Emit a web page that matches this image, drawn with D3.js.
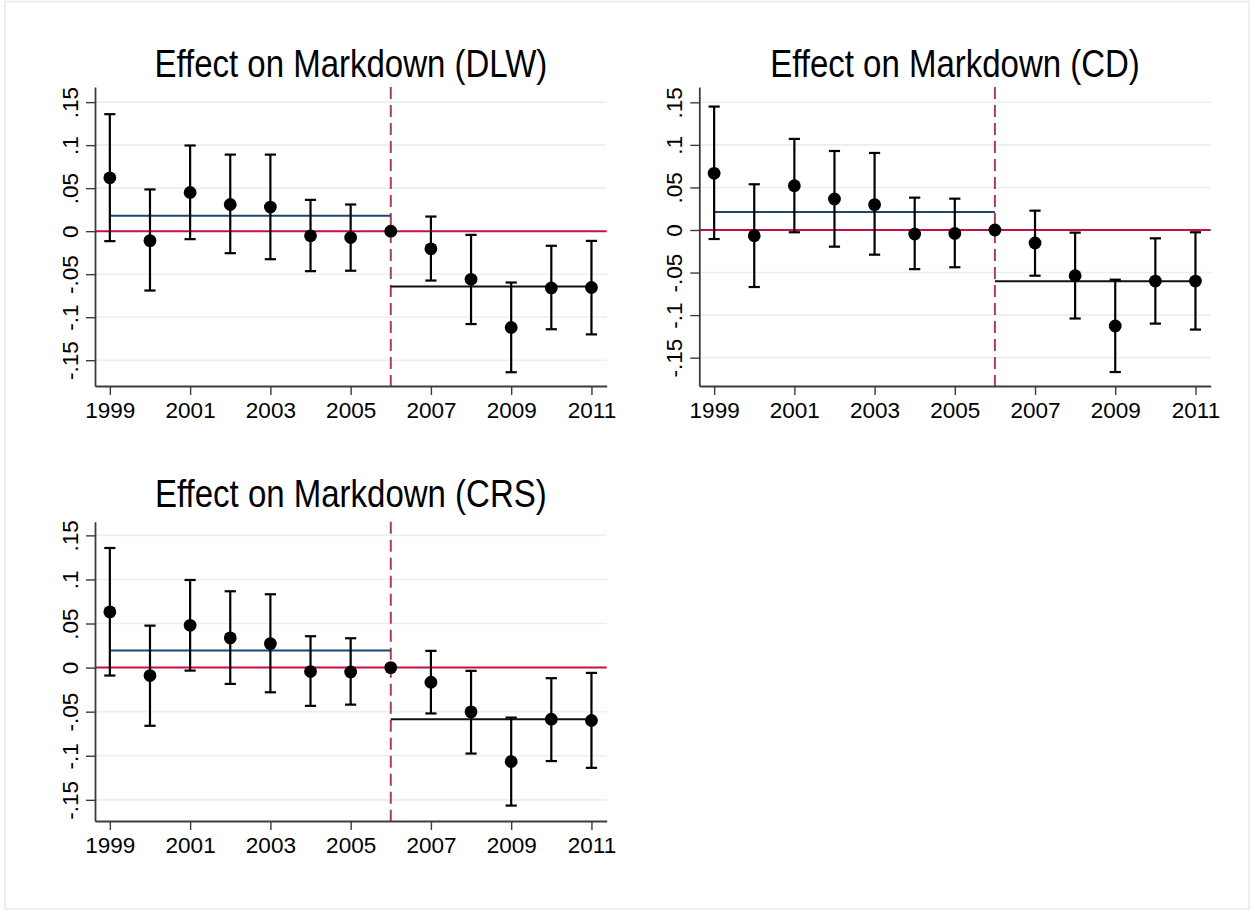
<!DOCTYPE html>
<html>
<head>
<meta charset="utf-8">
<script src="https://cdn.jsdelivr.net/npm/d3@7"></script>
<style>
    html, body { margin: 0; padding: 0; background: #fff; }
    svg { display: block; font-family: "Liberation Sans", Arial, sans-serif; }
</style>
</head>
<body>
<div id="chart"></div>
<script>
// event-study estimates
const YEARS = [1999, 2000, 2001, 2002, 2003, 2004, 2005, 2006, 2007, 2008, 2009, 2010, 2011];
const EVENT_YEAR = 2006;
const X_TICKS = [1999, 2001, 2003, 2005, 2007, 2009, 2011];
const Y_TICKS = [-0.15, -0.1, -0.05, 0, 0.05, 0.1, 0.15];
const Y_TICK_LABELS = ['-.15', '-.1', '-.05', '0', '.05', '.1', '.15'];

const TITLES = ['Effect on Markdown (DLW)', 'Effect on Markdown (CD)', 'Effect on Markdown (CRS)'];

const DLW_EST = [0.062, -0.011, 0.045, 0.031, 0.028, -0.0054, -0.0074, 0, -0.0205, -0.056, -0.112, -0.066, -0.0655];
const DLW_HI = [0.136, 0.0485, 0.0996, 0.089, 0.089, 0.0364, 0.031, null, 0.017, -0.0043, -0.0597, -0.017, -0.0113];
const DLW_LO = [-0.0116, -0.069, -0.0093, -0.0256, -0.0326, -0.0465, -0.046, null, -0.0574, -0.108, -0.164, -0.114, -0.12];

const CD_EST = [0.0666, -0.0067, 0.052, 0.0364, 0.0298, -0.0047, -0.004, 0, -0.0153, -0.0537, -0.1128, -0.06, -0.06];
const CD_HI = [0.145, 0.0537, 0.107, 0.0928, 0.0905, 0.038, 0.0368, null, 0.0227, -0.0031, -0.0584, -0.0098, -0.0027];
const CD_LO = [-0.0106, -0.067, -0.0027, -0.0196, -0.029, -0.046, -0.0438, null, -0.0537, -0.104, -0.1669, -0.11, -0.117];

const CRS_EST = [0.0632, -0.009, 0.048, 0.0337, 0.0272, -0.0045, -0.0049, 0, -0.0166, -0.0502, -0.1066, -0.0585, -0.06];
const CRS_HI = [0.1357, 0.0476, 0.0994, 0.0866, 0.0832, 0.0356, 0.0333, null, 0.019, -0.0037, -0.0567, -0.012, -0.006];
const CRS_LO = [-0.009, -0.066, -0.0034, -0.0185, -0.028, -0.0434, -0.042, null, -0.052, -0.0975, -0.1565, -0.106, -0.1137];

// average pre / post effects (horizontal segments)
const PRE_MEANS = [0.0178, 0.0212, 0.0193];
const POST_MEANS = [-0.0643, -0.0603, -0.0585];

// axis ranges as Stata chose them
const X_RANGE = [1998.63, 2011.38];
const Y_RANGES = [[-0.180, 0.1676], [-0.1833, 0.168], [-0.174, 0.1655]];

// layout
const WIDTH = 1254;
const HEIGHT = 911;
const PANELS = [
    { left: 95, right: 606.7, top: 87, bottom: 386, titleY: 76.5 },
    { left: 699.3, right: 1210.7, top: 87, bottom: 386, titleY: 76.5 },
    { left: 95, right: 606.7, top: 521.7, bottom: 821, titleY: 507 },
];

const PALETTE = {
    grid: '#e7eff2',
    axis: '#3c3c3c',
    zero: '#c3123c',
    pre: '#1a476f',
    post: '#111111',
    event: '#a8424c',
    marker: '#000000',
    frame: '#e4ecee',
};

const MARKER_R = 6.4;
const CAP_HALF = 5.6;
const TITLE_SIZE = 33;
const TITLE_STRETCH = 1.15; // the export is a bit taller than wide
const TICK_SIZE = 22.5;

const svg = d3.select('#chart')
    .append('svg')
    .attr('width', WIDTH)
    .attr('height', HEIGHT);

svg.append('rect')
    .attr('x', 5).attr('y', 1.5)
    .attr('width', WIDTH - 10).attr('height', HEIGHT - 3.5)
    .attr('fill', '#fff')
    .attr('stroke', PALETTE.frame)
    .attr('stroke-width', 1.5);

function drawPanel(p, i, est, lo, hi) {
    const x = d3.scaleLinear().domain(X_RANGE).range([p.left, p.right]);
    const y = d3.scaleLinear().domain(Y_RANGES[i]).range([p.bottom, p.top]);
    const g = svg.append('g');

    // grid
    g.append('g').selectAll('line')
        .data(Y_TICKS.filter(t => t !== 0))
        .join('line')
        .attr('x1', p.left).attr('x2', p.right)
        .attr('y1', d => y(d)).attr('y2', d => y(d))
        .attr('stroke', PALETTE.grid)
        .attr('stroke-width', 1.6);

    // zero reference
    g.append('line')
        .attr('x1', p.left).attr('x2', p.right)
        .attr('y1', y(0)).attr('y2', y(0))
        .attr('stroke', PALETTE.zero)
        .attr('stroke-width', 2);

    // event year
    g.append('line')
        .attr('x1', x(EVENT_YEAR)).attr('x2', x(EVENT_YEAR))
        .attr('y1', p.top).attr('y2', p.bottom)
        .attr('stroke', PALETTE.event)
        .attr('stroke-width', 2)
        .attr('stroke-dasharray', '12,6');

    // pre / post averages
    g.append('line')
        .attr('x1', x(YEARS[0])).attr('x2', x(EVENT_YEAR))
        .attr('y1', y(PRE_MEANS[i])).attr('y2', y(PRE_MEANS[i]))
        .attr('stroke', PALETTE.pre)
        .attr('stroke-width', 2);
    g.append('line')
        .attr('x1', x(EVENT_YEAR)).attr('x2', x(YEARS.at(-1)))
        .attr('y1', y(POST_MEANS[i])).attr('y2', y(POST_MEANS[i]))
        .attr('stroke', PALETTE.post)
        .attr('stroke-width', 2);

    const rows = YEARS.map((yr, k) => ({ yr, est: est[k], lo: lo[k], hi: hi[k] }));
    const ci = rows.filter(d => d.lo !== null);

    // confidence intervals
    const bars = g.append('g')
        .attr('stroke', PALETTE.marker)
        .attr('stroke-width', 2.2);
    bars.selectAll('.ci')
        .data(ci)
        .join('line')
        .attr('x1', d => x(d.yr)).attr('x2', d => x(d.yr))
        .attr('y1', d => y(d.hi)).attr('y2', d => y(d.lo));
    bars.selectAll('.cap-hi')
        .data(ci)
        .join('line')
        .attr('class', 'cap-hi')
        .attr('x1', d => x(d.yr) - CAP_HALF).attr('x2', d => x(d.yr) + CAP_HALF)
        .attr('y1', d => y(d.hi)).attr('y2', d => y(d.hi));
    bars.selectAll('.cap-lo')
        .data(ci)
        .join('line')
        .attr('class', 'cap-lo')
        .attr('x1', d => x(d.yr) - CAP_HALF).attr('x2', d => x(d.yr) + CAP_HALF)
        .attr('y1', d => y(d.lo)).attr('y2', d => y(d.lo));

    g.append('g').selectAll('circle')
        .data(rows)
        .join('circle')
        .attr('cx', d => x(d.yr))
        .attr('cy', d => y(d.est))
        .attr('r', MARKER_R)
        .attr('fill', PALETTE.marker);

    // axes
    const yAxis = g.append('g')
        .attr('transform', `translate(${p.left},0)`)
        .call(d3.axisLeft(y).tickValues(Y_TICKS).tickSize(9).tickSizeOuter(0)
            .tickFormat((d, k) => Y_TICK_LABELS[k]));
    const xAxis = g.append('g')
        .attr('transform', `translate(0,${p.bottom})`)
        .call(d3.axisBottom(x).tickValues(X_TICKS).tickSize(9).tickSizeOuter(0)
            .tickFormat(d3.format('d')));

    [yAxis, xAxis].forEach(ax => {
        ax.select('.domain').attr('stroke', PALETTE.axis).attr('stroke-width', 1.8);
        ax.selectAll('.tick line').attr('stroke', PALETTE.axis).attr('stroke-width', 1.4);
        ax.selectAll('.tick text')
            .attr('fill', '#000')
            .style('font-size', `${TICK_SIZE}px`)
            .style('font-family', '"Liberation Sans", Arial, sans-serif');
    });

    yAxis.selectAll('.tick text')
        .attr('x', null).attr('dy', null)
        .attr('text-anchor', 'middle')
        .attr('transform', 'translate(-17,0) rotate(-90)');
    xAxis.selectAll('.tick text')
        .attr('dy', null)
        .attr('y', 32.3);

    g.append('text')
        .attr('transform', `translate(${(p.left + p.right) / 2},${p.titleY}) scale(1,${TITLE_STRETCH})`)
        .attr('text-anchor', 'middle')
        .style('font-size', `${TITLE_SIZE}px`)
        .attr('fill', '#000')
        .text(TITLES[i]);
}

drawPanel(PANELS[0], 0, DLW_EST, DLW_LO, DLW_HI);
drawPanel(PANELS[1], 1, CD_EST, CD_LO, CD_HI);
drawPanel(PANELS[2], 2, CRS_EST, CRS_LO, CRS_HI);
</script>
</body>
</html>
